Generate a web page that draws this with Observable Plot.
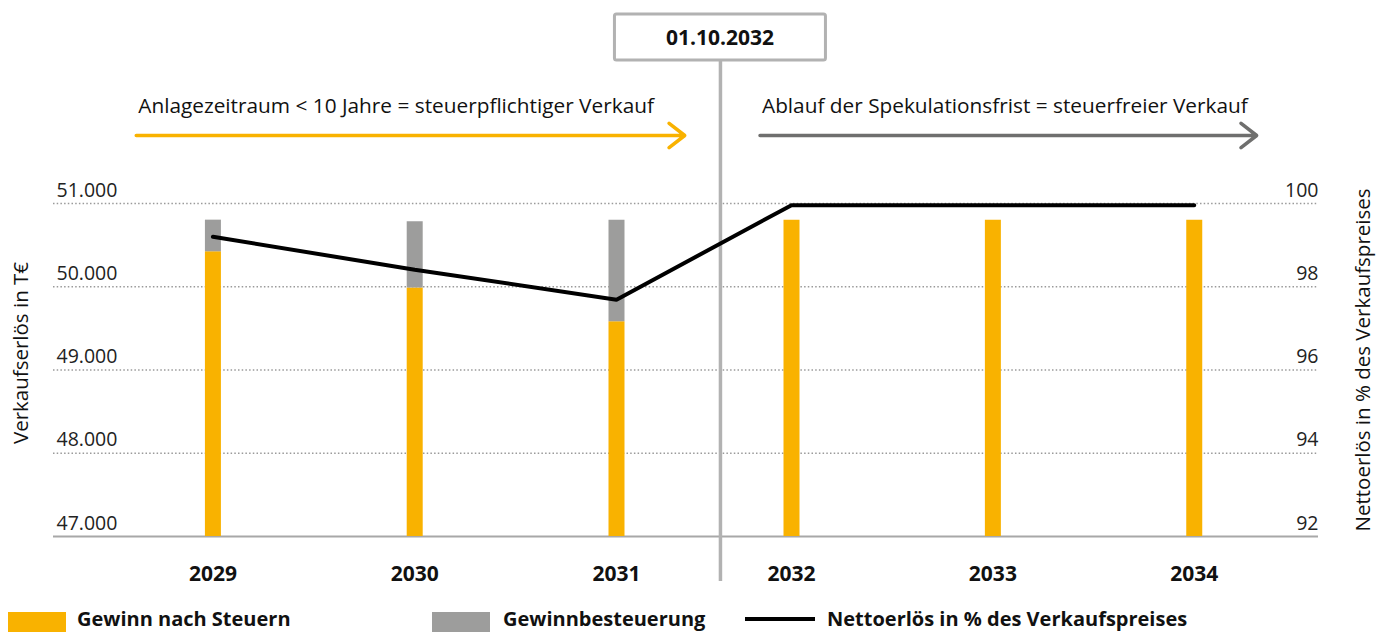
<!DOCTYPE html>
<html>
<head>
<meta charset="utf-8">
<script src="https://cdn.jsdelivr.net/npm/d3@7"></script>
<script src="https://cdn.jsdelivr.net/npm/@observablehq/plot@0.6"></script>
<style>
  body { margin: 0; background: #fff; font-family: "Open Sans", sans-serif; }
  #wrap { position: relative; width: 1388px; height: 633px; overflow: hidden; }
  #chart { position: absolute; left: 0; top: 0; }
  .leg { position: absolute; top: 607px; font-weight: bold; font-size: 20px; color: #111; line-height: 24px; white-space: nowrap; }
  .sw { position: absolute; }
</style>
</head>
<body>
<div id="wrap">
  <div id="chart"></div>
  <div class="sw" style="left:8px;top:612px;width:58px;height:20px;background:#f9b200"></div>
  <div class="leg" style="left:77px">Gewinn nach Steuern</div>
  <div class="sw" style="left:432px;top:612px;width:58px;height:20px;background:#9d9d9c"></div>
  <div class="leg" style="left:503px">Gewinnbesteuerung</div>
  <div class="sw" style="left:745px;top:617px;width:70px;height:3.5px;background:#000"></div>
  <div class="leg" style="left:827px">Nettoerlös in % des Verkaufspreises</div>
</div>
<script>
// ---- data ----
const years = [2029, 2030, 2031, 2032, 2033, 2034];
const gewinnNachSteuern = [50420, 49985, 49580, 50800, 50800, 50800];   // T€
const gewinnbesteuerung = [380, 795, 1220, 0, 0, 0];                      // T€
const nettoerloesProzent = [99.2, 98.41, 97.69, 99.96, 99.96, 99.96];   // %
const leftTicks = [47000, 48000, 49000, 50000, 51000];
const rightTicks = [92, 94, 96, 98, 100];
const leftTitle = "Verkaufserlös in T€";
const rightTitle = "Nettoerlös in % des Verkaufspreises";
const stichtag = "01.10.2032";
const dividerX = 2031.594;
const annotations = [
  {text: "Anlagezeitraum < 10 Jahre = steuerpflichtiger Verkauf", x1: 2028.62, x2: 2031.39, color: "#f9b200"},
  {text: "Ablauf der Spekulationsfrist = steuerfreier Verkauf", x1: 2031.82, x2: 2034.31, color: "#6f6f6e"}
];

// ---- derived ----
const yBase = 47000;
const toLeft = p => yBase + (p - 92) * 500;   // right axis (92..100) -> left axis (47000..51000)
const rows = years.map((y, i) => ({
  year: y,
  net: gewinnNachSteuern[i],
  total: gewinnNachSteuern[i] + gewinnbesteuerung[i],
  pct: nettoerloesProzent[i]
}));
const fmt = d3.format(",");
const de = v => fmt(v).replace(/,/g, ".");

const W = 1388, H = 600, ML = 53, MR = 70, MT = 203, MB = 64;

function dateBox(index, scales) {
  const cx = scales.x(dividerX);
  const g = d3.create("svg:g");
  g.append("rect").attr("x", cx - 105.5).attr("y", 14).attr("width", 211).attr("height", 46)
    .attr("fill", "#fff").attr("stroke", "#b2b2b2").attr("stroke-width", 3).attr("rx", 2);
  g.append("text").attr("x", cx).attr("y", 45).attr("text-anchor", "middle")
    .attr("font-weight", "bold").attr("font-size", 21).attr("fill", "#111").text(stichtag);
  return g.node();
}

const chart = Plot.plot({
  width: W, height: H,
  marginLeft: ML, marginRight: MR, marginTop: MT, marginBottom: MB,
  style: {fontFamily: "Open Sans, sans-serif", background: "#fff", color: "#222", overflow: "visible"},
  x: {type: "linear", domain: [2028.21, 2031, 2032, 2034.617], range: [ML, 616, 791, W - MR], axis: null},
  y: {domain: [47000, 51000], axis: null},
  marks: [
    Plot.ruleY(leftTicks.filter(v => v > yBase), {stroke: "#9a9a9a", strokeWidth: 1.5, strokeDasharray: "1.5 2.2"}),
    Plot.ruleY([yBase], {stroke: "#a8a8a8", strokeWidth: 2}),
    Plot.ruleX([dividerX], {stroke: "#b2b2b2", strokeWidth: 3.5, insetTop: -143, insetBottom: -45}),
    Plot.ruleX(rows, {x: "year", y1: yBase, y2: "net", stroke: "#f9b200", strokeWidth: 16}),
    Plot.ruleX(rows.filter(d => d.total > d.net), {x: "year", y1: "net", y2: "total", stroke: "#9d9d9c", strokeWidth: 16}),
    Plot.line(rows, {x: "year", y: d => toLeft(d.pct), stroke: "#000", strokeWidth: 4, strokeLinejoin: "miter"}),
    Plot.text(leftTicks, {y: d => d, text: d => de(d), frameAnchor: "left", textAnchor: "start", lineAnchor: "bottom", dx: 3, dy: -7, fontSize: 19.5, fill: "#222"}),
    Plot.text(rightTicks, {y: d => toLeft(d), text: d => String(d), frameAnchor: "right", textAnchor: "end", lineAnchor: "bottom", dx: 0, dy: -7, fontSize: 19.5, fill: "#222"}),
    Plot.text(years, {x: d => d, text: d => String(d), frameAnchor: "bottom", lineAnchor: "bottom", dy: 44, fontSize: 21, fontWeight: "bold", fill: "#111"}),
    Plot.text([leftTitle], {frameAnchor: "left", rotate: -90, textAnchor: "middle", lineAnchor: "bottom", dx: -26, dy: -17, fontSize: 20.5, fill: "#111"}),
    Plot.text([rightTitle], {frameAnchor: "right", rotate: -90, textAnchor: "middle", lineAnchor: "bottom", dx: 51, dy: -10, fontSize: 20.5, fill: "#111"}),
    Plot.text(annotations, {x: "x1", text: "text", frameAnchor: "top", textAnchor: "start", lineAnchor: "bottom", dx: 2, dy: -91, fontSize: 20.8, fill: "#111"}),
    Plot.arrow(annotations, {x1: "x1", x2: "x2", y1: 51000, y2: 51000, dy: -68, stroke: "color", strokeWidth: 3.5, headAngle: 76, headLength: 8.5, strokeLinecap: "round"}),
    dateBox
  ]
});
document.getElementById("chart").appendChild(chart);
</script>
</body>
</html>
